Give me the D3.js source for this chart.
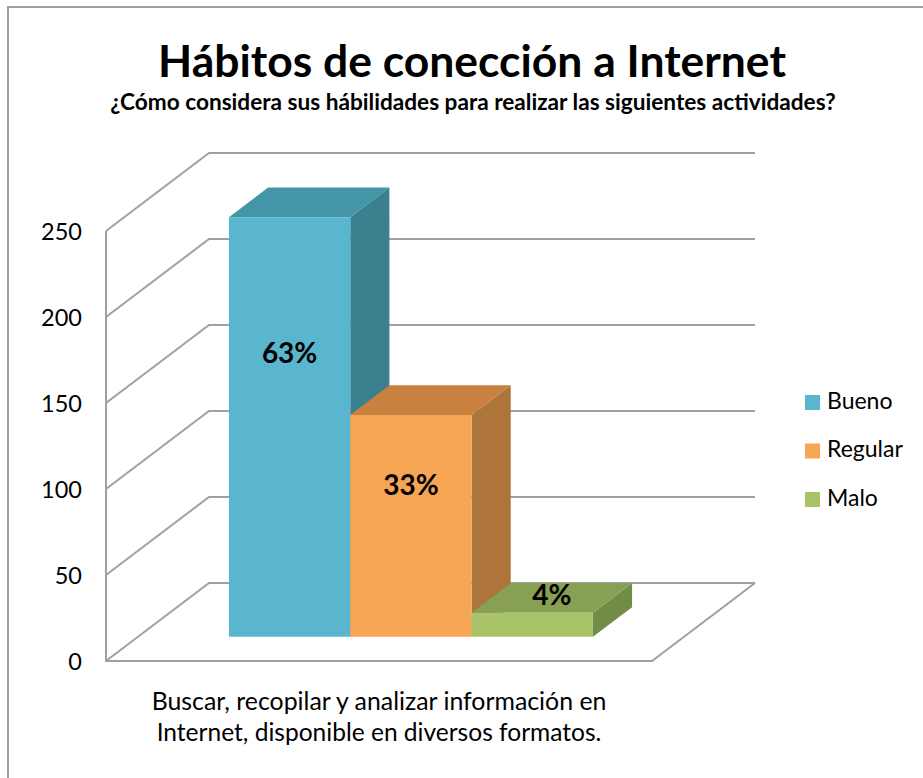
<!DOCTYPE html>
<html>
<head>
<meta charset="utf-8">
<script src="https://cdn.jsdelivr.net/npm/d3@7"></script>
<style>
  body { margin: 0; background: #fff; }
  text { font-family: Lato, "Open Sans", sans-serif; fill: #000; }
</style>
</head>
<body>
<svg id="chart" width="923" height="778"></svg>
<script>
// data
const categories = ["Buscar, recopilar y analizar información en Internet, disponible en diversos formatos."];
const categoryLines = ["Buscar, recopilar y analizar información en", "Internet, disponible en diversos formatos."];
const series = ["Bueno", "Regular", "Malo"];
const values = [244, 129, 14];
const yTicks = [0, 50, 100, 150, 200, 250];
const colors = {
  Bueno:   {front: "#5ab6ce", top: "#4495a8", side: "#3a808e"},
  Regular: {front: "#f7a656", top: "#c9813f", side: "#ae753a"},
  Malo:    {front: "#a9c468", top: "#87a053", side: "#718c47"}
};

const svg = d3.select("#chart");

// 3d offset of the back wall
const DX = 103, DY = -78;
const barT0 = 0.31, barT1 = 0.69;

const y = d3.scaleLinear().domain([0, 250]).range([661, 231]);
const x0 = d3.scaleBand().domain(categories).range([106, 652]).paddingInner(0).paddingOuter(0.25);
const x1 = d3.scaleBand().domain(series).range([0, x0.bandwidth()]);

function p(x, v, t) { return [x + DX * t, y(v) + DY * t]; }
const line = d3.line();
const gridColor = "#a0a0a0";

// outer frame
svg.append("rect")
  .attr("x", 8).attr("y", 7)
  .attr("width", 940).attr("height", 800)
  .attr("fill", "none").attr("stroke", "#a0a0a0").attr("stroke-width", 2);

// fit text to a width
function fit(sel, target) {
  let len = sel.node().getComputedTextLength();
  let fs = parseFloat(sel.attr("font-size"));
  sel.attr("font-size", fs * target / len);
}

let title = svg.append("text")
  .attr("x", 472).attr("y", 77)
  .attr("text-anchor", "middle")
  .attr("font-size", 44).attr("font-weight", "bold")
  .text("Hábitos de conección a Internet");
fit(title, 628);

let subtitle = svg.append("text")
  .attr("x", 473).attr("y", 110)
  .attr("text-anchor", "middle")
  .attr("font-size", 17).attr("font-weight", "bold")
  .text("¿Cómo considera sus hábilidades para realizar las siguientes actividades?");
fit(subtitle, 726);

/* walls and grid */
let grid = svg.append("g")
  .attr("fill", "none")
  .attr("stroke", gridColor)
  .attr("stroke-width", 2);

const [left, right] = x0.range();

yTicks.forEach(v => {
  grid.append("path").attr("d", line([p(left, v, 0), p(left, v, 1), p(right, v, 1)]));
});
grid.append("path").attr("d", line([p(left, 250, 0), p(left, 0, 0), p(right, 0, 0), p(right, 0, 1)]));

svg.append("g")
  .selectAll("text")
  .data(yTicks)
  .enter().append("text")
  .attr("x", 82)
  .attr("y", d => y(d) + 3)
  .attr("text-anchor", "end")
  .attr("dominant-baseline", "middle")
  .attr("font-size", 23.5)
  .text(d => d);

/* bars */
const total = d3.sum(values);
const fmt = d3.format(".0%");

categories.forEach(cat => {
  series.forEach((s, i) => {
    let v = values[i];
    let xl = x0(cat) + x1(s);
    let xr = xl + x1.bandwidth();
    let c = colors[s];
    let g = svg.append("g").attr("class", "bar");
    g.append("path")
      .attr("d", line([p(xr, 0, barT0), p(xr, 0, barT1), p(xr, v, barT1), p(xr, v, barT0)]) + "Z")
      .attr("fill", c.side);
    g.append("path")
      .attr("d", line([p(xl, v, barT0), p(xr, v, barT0), p(xr, v, barT1), p(xl, v, barT1)]) + "Z")
      .attr("fill", c.top);
    g.append("path")
      .attr("d", line([p(xl, 0, barT0), p(xr, 0, barT0), p(xr, v, barT0), p(xl, v, barT0)]) + "Z")
      .attr("fill", c.front);
  });
});

// percentage labels
categories.forEach(cat => {
  series.forEach((s, i) => {
    let v = values[i];
    let xc = x0(cat) + x1(s) + x1.bandwidth() / 2;
    let front = y(0) - y(v);
    let pos = front > 40 ? p(xc, v * 0.67, barT0) : p(xc, v, (barT0 + barT1) / 2);
    svg.append("text")
      .attr("x", pos[0]).attr("y", pos[1])
      .attr("text-anchor", "middle")
      .attr("dominant-baseline", "middle")
      .attr("font-size", 28).attr("font-weight", "bold")
      .text(fmt(v / total));
  });
});

/* category label */
let catLabel = svg.append("g");
categoryLines.forEach((l, i) => {
  let t = catLabel.append("text")
    .attr("x", (left + right) / 2)
    .attr("y", 710 + i * 31)
    .attr("text-anchor", "middle")
    .attr("font-size", 21)
    .text(l);
  if (i === 0) fit(t, 455);
  else fit(t, 445);
});

/* legend */
let legend = svg.append("g")
  .selectAll("g")
  .data(series)
  .enter().append("g")
  .attr("transform", (d, i) => `translate(805, ${395 + i * 48.5})`);

legend.append("rect")
  .attr("width", 15).attr("height", 15)
  .attr("fill", d => colors[d].front);

legend.append("text")
  .attr("x", 22).attr("y", 8)
  .attr("dominant-baseline", "middle")
  .attr("font-size", 23)
  .text(d => d);
</script>
</body>
</html>
